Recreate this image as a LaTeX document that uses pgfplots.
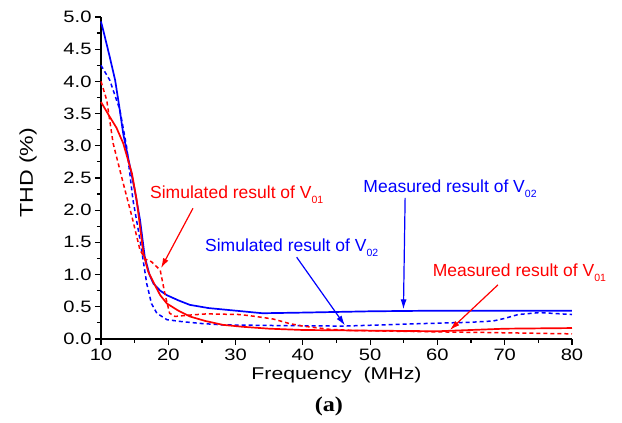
\documentclass[border=0pt]{standalone}
\usepackage{fontspec}
\setmainfont{Liberation Sans}
\newfontfamily\tickfont[FakeStretch=1.22]{Liberation Sans}
\newfontfamily\labfont[FakeStretch=1.25]{Liberation Sans}
\newfontfamily\capfont[FakeStretch=1.15]{Liberation Serif}
\usepackage{pgfplots}
\pgfplotsset{compat=1.18}
\usetikzlibrary{arrows.meta}
\definecolor{thdblue}{RGB}{0,0,255}
\definecolor{thdred}{RGB}{255,0,0}
\newcommand\sub[1]{\raisebox{-5pt}{\fontsize{10.5}{10.5}\selectfont #1}}
\tikzset{
  ann/.style={anchor=base west, inner sep=0pt, font=\fontsize{17.5}{17.5}\selectfont},
  pointer/.style={line width=1.2pt, -{Latex[length=10pt,width=6pt]}}
}

\begin{document}
\begin{tikzpicture}
\begin{axis}[
  scale only axis,
  width=471pt, height=322pt,
  xmin=10, xmax=80, ymin=0, ymax=5,
  axis lines=left,
  axis line style={-, line width=1.3pt},
  xtick={10,20,30,40,50,60,70,80},
  ytick={0,0.5,1,1.5,2,2.5,3,3.5,4,4.5,5},
  minor x tick num=1, minor y tick num=1,
  tick align=outside,
  major tick length=6pt, minor tick length=4pt,
  every tick/.style={black, line width=1.2pt},
  /pgf/number format/assume math mode=true,
  tick label style={font=\tickfont\fontsize{16.5}{16.5}\selectfont},
  y tick label style={/pgf/number format/.cd, fixed, fixed zerofill, precision=1, /tikz/.cd},
  xlabel={Frequency\ \ (MHz)},
  ylabel={THD (\%)},
  xlabel style={font=\labfont\fontsize{17}{17}\selectfont, at={(axis description cs:0.5,-0.127)}, anchor=base},
  ylabel style={font=\labfont\fontsize{18.5}{18.5}\selectfont, at={(axis description cs:-0.155,0.516)}, anchor=center},
  clip=false,
]
% measured V02
\addplot[thdblue, line width=1.7pt, line join=round] coordinates {
(10,4.93) (10.6,4.68) (11.3,4.38) (12.1,4.02) (12.7,3.62) (13.3,3.19) (14.3,2.68) (15.0,2.32) (15.8,1.85)
(16.5,1.28) (17.2,1.00) (17.8,0.86) (18.8,0.75) (19.8,0.68) (21.5,0.60) (23.2,0.53)
(26,0.48) (30,0.44) (34,0.40) (40,0.41) (50,0.43) (60,0.44) (70,0.44) (80,0.44)};
% simulated V02
\addplot[thdblue, line width=1.5pt, dash pattern=on 4pt off 3pt, line join=round] coordinates {
(10,4.25) (11.3,4.02) (12.8,3.56) (13.8,2.99) (14.75,2.16) (15.8,1.54) (16.8,0.86)
(17.5,0.55) (18.3,0.40) (19.8,0.30) (22,0.27) (25,0.24) (28,0.22) (35,0.21) (46,0.20)
(52,0.22) (58,0.24) (65,0.26) (68.3,0.28) (70,0.32) (72,0.38) (75.2,0.41) (80,0.38)};
% measured V01
\addplot[thdred, line width=1.7pt, line join=round] coordinates {
(10,3.68) (11.3,3.45) (12.3,3.28) (13.3,3.04) (14.6,2.57) (15.3,2.16) (16.3,1.33)
(17.0,1.05) (17.8,0.88) (18.8,0.68) (19.8,0.55) (21.5,0.44) (23.2,0.35) (25.5,0.28)
(28.1,0.22) (31,0.19) (35,0.16) (40,0.14) (50,0.13) (60,0.12) (65,0.14) (70,0.16) (80,0.17)};
% simulated V01
\addplot[thdred, line width=1.5pt, dash pattern=on 4pt off 3pt, line join=round] coordinates {
(10,4.0) (10.85,3.71) (11.8,3.04) (13.3,2.42) (14.6,1.90) (15.8,1.38) (16.6,1.24)
(17.5,1.20) (18.8,1.07) (19.5,0.70) (20.2,0.40) (21,0.35) (23,0.37) (25.7,0.39)
(30.6,0.38) (33,0.35) (35.6,0.31) (38,0.24) (40,0.20) (44,0.15) (48,0.13)
(60.4,0.11) (67.8,0.10) (80,0.08)};

\node[ann, thdred] at (axis cs:17.28,2.18) {Simulated result of V\sub{01}};
\node[ann, thdblue] at (axis cs:25.45,1.356) {Simulated result of V\sub{02}};
\node[ann, thdblue] at (axis cs:48.98,2.27) {Measured result of V\sub{02}};
\node[ann, thdred] at (axis cs:59.29,0.967) {Measured result of V\sub{01}};

\draw[pointer, thdred] (axis cs:23.67,2.03) -- (axis cs:18.92,1.10);
\draw[pointer, thdblue] (axis cs:39.08,1.27) -- (axis cs:46.26,0.21);
\draw[pointer, thdblue] (axis cs:55.2,2.19) -- (axis cs:54.95,0.46);
\draw[pointer, thdred] (axis cs:68.99,0.84) -- (axis cs:61.86,0.14);

\node[anchor=base, inner sep=0pt, font=\capfont\bfseries\fontsize{21}{21}\selectfont]
  at (axis description cs:0.484,-0.224) {(a)};

\path (rel axis cs:0,0) ++(-101pt,-84pt) rectangle ++(622pt,423pt);
\end{axis}
\end{tikzpicture}
\end{document}
